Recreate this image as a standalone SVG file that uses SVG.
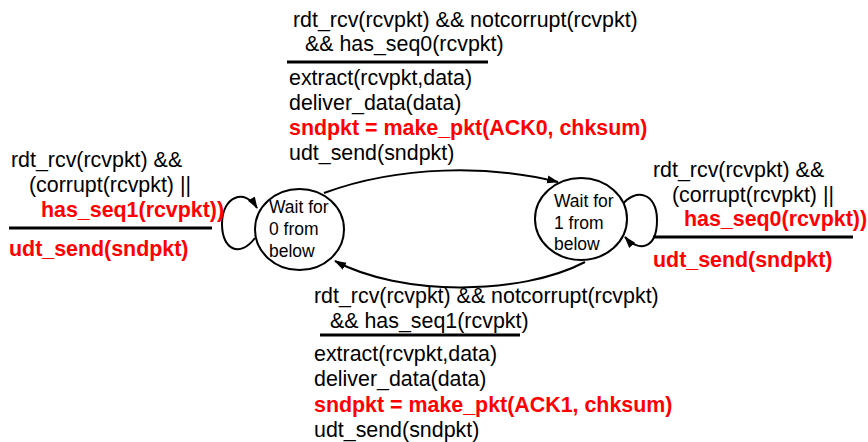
<svg xmlns="http://www.w3.org/2000/svg" width="868" height="442" viewBox="0 0 868 442">
  <defs>
    <marker id="arrow" markerWidth="12" markerHeight="10" refX="11" refY="5" orient="auto" markerUnits="userSpaceOnUse">
      <path d="M0,1 L12,5 L0,9 Z" fill="#000"/>
    </marker>
    <style>
      text { font-family: "Liberation Sans", Arial, Helvetica, sans-serif; fill: #000; }
      .lbl { font-size: 21.4px; }
      .hot { font-size: 21.4px; font-weight: bold; fill: #ff0000; }
      .state-text { font-size: 17.5px; }
      .state { fill: #fff; stroke: #000; stroke-width: 2; }
      .edge { fill: none; stroke: #000; stroke-width: 2; }
      .bar { stroke: #000; stroke-width: 3; }
    </style>
  </defs>
  <rect width="868" height="442" fill="#fff"/>

  <!-- transition arrows -->
  <g id="connectors">
    <path class="edge" d="M324,193 C400,165 490,165 558,182" marker-end="url(#arrow)"/>
    <path class="edge" d="M585,262 C520,296 400,296 335,261" marker-end="url(#arrow)"/>
    <path class="edge" d="M255,238 C240,258 222,250 222,224 C222,196 245,188 257,208" marker-end="url(#arrow)"/>
    <path class="edge" d="M622,205 C635,188 657,192 657,220 C657,250 638,252 625,237" marker-end="url(#arrow)"/>
  </g>

  <!-- states -->
  <g id="wait0">
    <ellipse class="state" cx="299.5" cy="229.5" rx="44.5" ry="40.5"/>
    <text class="state-text" x="269" y="213">Wait for</text>
    <text class="state-text" x="269" y="235">0 from</text>
    <text class="state-text" x="269" y="257">below</text>
  </g>
  <g id="wait1">
    <ellipse class="state" cx="581" cy="219" rx="46" ry="41"/>
    <text class="state-text" x="554" y="207">Wait for</text>
    <text class="state-text" x="554" y="229">1 from</text>
    <text class="state-text" x="554" y="250">below</text>
  </g>

  <!-- transition labels: event above the bar, actions below -->
  <g id="label-0to1">
    <text class="lbl" x="293" y="27">rdt_rcv(rcvpkt) &amp;&amp; notcorrupt(rcvpkt)</text>
    <text class="lbl" x="305" y="51">&amp;&amp; has_seq0(rcvpkt)</text>
    <line class="bar" x1="287" y1="62" x2="488" y2="62"/>
    <text class="lbl" x="289" y="85">extract(rcvpkt,data)</text>
    <text class="lbl" x="289" y="110">deliver_data(data)</text>
    <text class="hot" x="289" y="135">sndpkt = make_pkt(ACK0, chksum)</text>
    <text class="lbl" x="289" y="160">udt_send(sndpkt)</text>
  </g>

  <g id="label-1to0">
    <text class="lbl" x="314" y="303">rdt_rcv(rcvpkt) &amp;&amp; notcorrupt(rcvpkt)</text>
    <text class="lbl" x="330" y="328">&amp;&amp; has_seq1(rcvpkt)</text>
    <line class="bar" x1="320" y1="335" x2="520" y2="335"/>
    <text class="lbl" x="314" y="361">extract(rcvpkt,data)</text>
    <text class="lbl" x="314" y="386">deliver_data(data)</text>
    <text class="hot" x="314" y="412">sndpkt = make_pkt(ACK1, chksum)</text>
    <text class="lbl" x="314" y="437">udt_send(sndpkt)</text>
  </g>

  <g id="label-0self">
    <text class="lbl" x="11" y="167">rdt_rcv(rcvpkt) &amp;&amp;</text>
    <text class="lbl" x="29" y="192">(corrupt(rcvpkt) ||</text>
    <text class="hot" x="41" y="217">has_seq1(rcvpkt))</text>
    <line class="bar" x1="9" y1="228" x2="212" y2="228"/>
    <text class="hot" x="9" y="256">udt_send(sndpkt)</text>
  </g>

  <g id="label-1self">
    <text class="lbl" x="653" y="177">rdt_rcv(rcvpkt) &amp;&amp;</text>
    <text class="lbl" x="672" y="202">(corrupt(rcvpkt) ||</text>
    <text class="hot" x="684" y="226">has_seq0(rcvpkt))</text>
    <line class="bar" x1="653" y1="237" x2="853" y2="237"/>
    <text class="hot" x="653" y="267">udt_send(sndpkt)</text>
  </g>
</svg>
